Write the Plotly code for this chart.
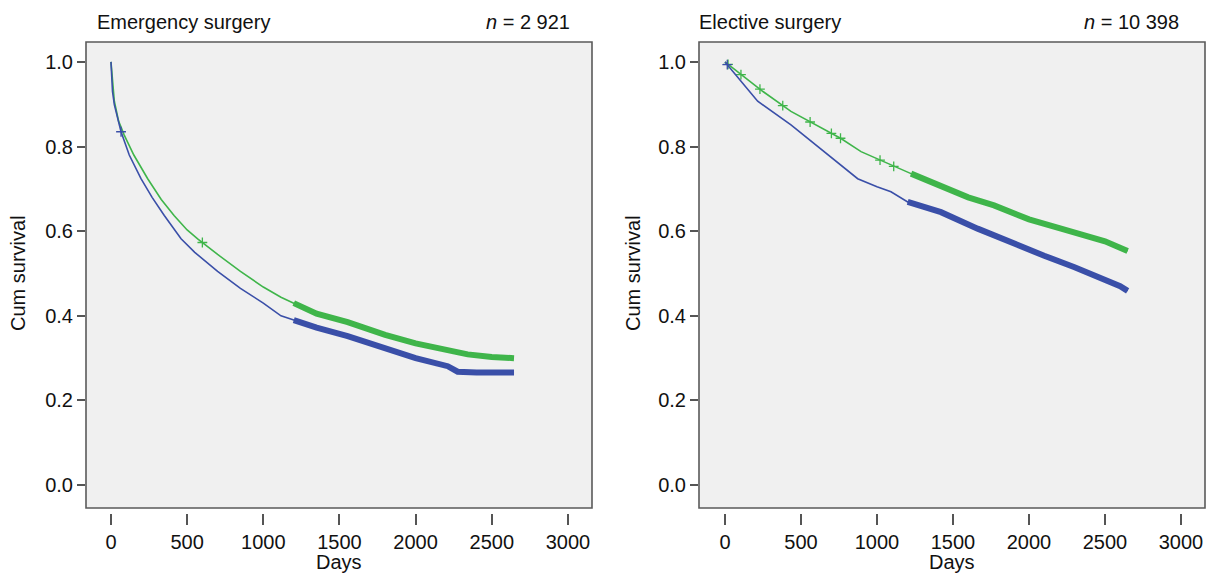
import plotly.graph_objects as go

# ---------------- data ----------------
# Emergency surgery
em_green_days = [0, 10, 22, 50, 87, 150, 241, 330, 414, 500, 569, 700, 850, 1000, 1116, 1200,
                 1350, 1554, 1800, 2000, 2211, 2342, 2500, 2646]
em_green_surv = [1.0, 0.95, 0.907, 0.86, 0.827, 0.78, 0.724, 0.675, 0.637, 0.603, 0.582, 0.545,
                 0.505, 0.468, 0.444, 0.43, 0.405, 0.385, 0.355, 0.335, 0.317, 0.309, 0.303, 0.30]
em_blue_days = [0, 10, 22, 66, 120, 197, 270, 350, 460, 550, 700, 850, 1000, 1116, 1200,
                1350, 1554, 1800, 2000, 2211, 2276, 2400, 2646]
em_blue_surv = [1.0, 0.93, 0.899, 0.835, 0.78, 0.724, 0.68, 0.637, 0.582, 0.55, 0.505, 0.465,
                0.43, 0.40, 0.39, 0.372, 0.352, 0.322, 0.30, 0.281, 0.268, 0.266, 0.266]
em_green_cens = [600]
em_blue_cens = [66]

# Elective surgery
el_green_days = [0, 105, 250, 434, 600, 763, 895, 1092, 1224, 1421, 1600, 1770, 2000, 2211,
                 2400, 2500, 2649]
el_green_surv = [1.0, 0.97, 0.93, 0.883, 0.85, 0.819, 0.788, 0.756, 0.736, 0.705, 0.68, 0.661,
                 0.628, 0.606, 0.585, 0.576, 0.553]
el_blue_days = [0, 105, 215, 434, 653, 873, 1000, 1092, 1202, 1421, 1662, 1900, 2100, 2300,
                2430, 2550, 2600, 2649]
el_blue_surv = [1.0, 0.954, 0.907, 0.851, 0.788, 0.724, 0.705, 0.693, 0.669, 0.645, 0.606,
                0.57, 0.542, 0.515, 0.495, 0.48, 0.47, 0.459]
el_green_cens = [20, 105, 230, 380, 560, 700, 760, 1020, 1110]
el_blue_cens = [15]

x_ticks = [0, 500, 1000, 1500, 2000, 2500, 3000]
y_ticks = [0.0, 0.2, 0.4, 0.6, 0.8, 1.0]
y_tick_text = ["0.0", "0.2", "0.4", "0.6", "0.8", "1.0"]

panel_titles = ["Emergency surgery", "Elective surgery"]
panel_n = ["<i>n</i> = 2 921", "<i>n</i> = 10 398"]

GREEN = "#3fb54a"
BLUE = "#3a4fa8"
DENSE_FROM = 1200

W, H = 1211, 573
FONT = "Liberation Sans, Arial, Helvetica, sans-serif"
FS = 20


def interp(days, surv, d):
    for i in range(len(days) - 1):
        if days[i] <= d <= days[i + 1]:
            t = (d - days[i]) / (days[i + 1] - days[i])
            return surv[i] + t * (surv[i + 1] - surv[i])
    return surv[-1]


fig = go.Figure()

panels = [
    ("x", "y", [(em_green_days, em_green_surv, em_green_cens, GREEN),
                (em_blue_days, em_blue_surv, em_blue_cens, BLUE)]),
    ("x2", "y2", [(el_green_days, el_green_surv, el_green_cens, GREEN),
                  (el_blue_days, el_blue_surv, el_blue_cens, BLUE)]),
]

for xa, ya, series in panels:
    for days, surv, cens, col in series:
        fig.add_trace(go.Scatter(x=days, y=surv, mode="lines", xaxis=xa, yaxis=ya,
                                 line=dict(color=col, width=1.6), showlegend=False,
                                 hoverinfo="skip"))
        dd = [d for d in days if d >= DENSE_FROM]
        ss = [s for d, s in zip(days, surv) if d >= DENSE_FROM]
        fig.add_trace(go.Scatter(x=dd, y=ss, mode="lines", xaxis=xa, yaxis=ya,
                                 line=dict(color=col, width=6), showlegend=False,
                                 hoverinfo="skip"))
        fig.add_trace(go.Scatter(x=cens, y=[interp(days, surv, c) for c in cens],
                                 mode="markers", xaxis=xa, yaxis=ya,
                                 marker=dict(symbol="cross-thin", size=7,
                                             line=dict(color=col, width=1.3)),
                                 showlegend=False, hoverinfo="skip"))

x_dom = [(86 / W, 592 / W), (699 / W, 1205 / W)]
y_dom = (1 - 508 / H, 1 - 42 / H)
x_axis_pos = 1 - 513 / H

tick_common = dict(ticks="outside", tickwidth=1.5, tickcolor="#555555",
                   showgrid=False, zeroline=False, showline=False,
                   tickfont=dict(family=FONT, size=FS, color="#111111"))

layout = dict(
    width=W, height=H,
    margin=dict(l=0, r=0, t=0, b=0),
    paper_bgcolor="white", plot_bgcolor="#f0f0f0",
    font=dict(family=FONT, size=FS, color="#111111"),
    xaxis=dict(domain=x_dom[0], range=[-164, 3158], tickvals=x_ticks, anchor="free",
               position=x_axis_pos, ticklen=11, **tick_common),
    yaxis=dict(domain=y_dom, range=[-0.054, 1.047], tickvals=y_ticks, ticktext=y_tick_text,
               anchor="x", ticklen=8, **tick_common),
    xaxis2=dict(domain=x_dom[1], range=[-171, 3158], tickvals=x_ticks, anchor="free",
                position=x_axis_pos, ticklen=11, **tick_common),
    yaxis2=dict(domain=y_dom, range=[-0.054, 1.047], tickvals=y_ticks, ticktext=y_tick_text,
                anchor="x2", ticklen=8, **tick_common),
)
fig.update_layout(**layout)

shapes = []
for xr, yr in (("x domain", "y domain"), ("x2 domain", "y2 domain")):
    shapes.append(dict(type="rect", xref=xr, yref=yr, x0=0, x1=1, y0=0, y1=1,
                       line=dict(color="#5a5a5a", width=1.6), layer="above"))
fig.update_layout(shapes=shapes)

ann = []
title_x = [95 / W, 697 / W]
n_x = [572 / W, 1181 / W]
ylab_x = [18 / W, 633 / W]
days_x = [(86 + 592) / 2 / W, (699 + 1205) / 2 / W]
for i in range(2):
    ann.append(dict(text=panel_titles[i], x=title_x[i], y=1 - 22 / H, xref="paper", yref="paper",
                    xanchor="left", yanchor="middle", showarrow=False,
                    font=dict(family=FONT, size=FS)))
    ann.append(dict(text=panel_n[i], x=n_x[i], y=1 - 22 / H, xref="paper", yref="paper",
                    xanchor="right", yanchor="middle", showarrow=False,
                    font=dict(family=FONT, size=FS)))
    ann.append(dict(text="Cum survival", x=ylab_x[i], y=1 - 273 / H, xref="paper", yref="paper",
                    xanchor="center", yanchor="middle", textangle=-90, showarrow=False,
                    font=dict(family=FONT, size=FS)))
    ann.append(dict(text="Days", x=days_x[i], y=1 - 562 / H, xref="paper", yref="paper",
                    xanchor="center", yanchor="middle", showarrow=False,
                    font=dict(family=FONT, size=FS)))
fig.update_layout(annotations=ann)

fig.write_html("out.html", config={"displayModeBar": False},
               post_script="document.body.style.margin='0px';")
